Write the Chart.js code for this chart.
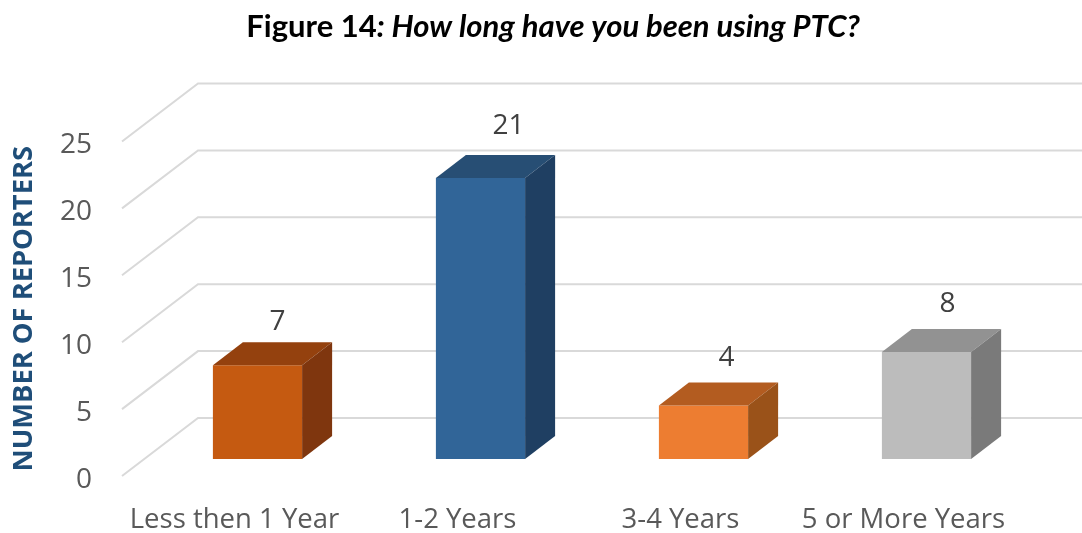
<!DOCTYPE html>
<html>
<head>
<meta charset="utf-8">
<title>How long have you been using PTC?</title>
<script src="https://cdn.jsdelivr.net/npm/chart.js@4"></script>
<style>
    html, body { margin: 0; padding: 0; background: #fff; }
    canvas { display: block; }
</style>
</head>
<body>
<canvas id="ptc-chart" width="1082" height="533"></canvas>
<script>
const CATEGORIES = ['Less then 1 Year', '1-2 Years', '3-4 Years', '5 or More Years'];
const REPORTERS = [7, 21, 4, 8];
const Y_TICKS = [0, 5, 10, 15, 20, 25];

const FRONT_COLORS = ['#C55A11', '#316598', '#ED7D31', '#BCBCBC'];
const TOP_COLORS = ['#94410E', '#274E74', '#B35C20', '#929292'];
const SIDE_COLORS = ['#7F360E', '#1F3F62', '#9A5219', '#7A7A7A'];

// how far the bars stand from the wall and from the front edge of the floor
const BAR_DEPTH = { dx: 30, dy: -23 };
const WALL_OFFSET = { dx: 52, dy: -41 };
const FLOOR_OFFSET = { dx: -24, dy: 17 };

// value labels sit up and to the right of each bar, not quite evenly
const VALUE_SHIFT_X = [20, 28, 23, 21];
const VALUE_SHIFT_Y = [43, 52, 47, 48];

const FONT = '"Open Sans", sans-serif';
const TITLE_FONT = 'Lato, sans-serif';

// gridlines run along the floor/side wall, then across the back wall
const wallPlugin = {
    id: 'wall',
    beforeDatasetsDraw(chart) {
        const { ctx, scales: { y }, chartArea } = chart;
        ctx.save();
        ctx.strokeStyle = '#D9D9D9';
        ctx.lineWidth = 2;
        Y_TICKS.forEach(v => {
            const py = y.getPixelForValue(v);
            ctx.beginPath();
            ctx.moveTo(chartArea.left + FLOOR_OFFSET.dx, py + FLOOR_OFFSET.dy);
            ctx.lineTo(chartArea.left + WALL_OFFSET.dx, py + WALL_OFFSET.dy);
            ctx.lineTo(chart.width, py + WALL_OFFSET.dy);
            ctx.stroke();
        });
        ctx.restore();
    }
};

function fillFace(ctx, color, points) {
    ctx.fillStyle = color;
    ctx.beginPath();
    points.forEach((p, i) => i ? ctx.lineTo(p[0], p[1]) : ctx.moveTo(p[0], p[1]));
    ctx.closePath();
    ctx.fill();
}

// top and side faces of each bar, plus the value above it
const boxPlugin = {
    id: 'box',
    afterDatasetsDraw(chart) {
        const ctx = chart.ctx;
        const { dx, dy } = BAR_DEPTH;
        chart.getDatasetMeta(0).data.forEach((bar, i) => {
            const left = bar.x - bar.width / 2;
            const right = bar.x + bar.width / 2;
            fillFace(ctx, TOP_COLORS[i], [[left, bar.y], [right, bar.y], [right + dx, bar.y + dy], [left + dx, bar.y + dy]]);
            fillFace(ctx, SIDE_COLORS[i], [[right, bar.y], [right + dx, bar.y + dy], [right + dx, bar.base + dy], [right, bar.base]]);

            ctx.fillStyle = '#404040';
            ctx.font = '28px ' + FONT;
            ctx.textAlign = 'center';
            ctx.textBaseline = 'middle';
            ctx.fillText(String(REPORTERS[i]), bar.x + VALUE_SHIFT_X[i], bar.y - VALUE_SHIFT_Y[i]);
        });
    }
};

// heading has an upright part and an italic part, so it is written in two runs
const headingPlugin = {
    id: 'heading',
    afterDraw(chart) {
        const ctx = chart.ctx;
        const runs = [
            { text: 'Figure 14', font: 'bold 31px ' + TITLE_FONT },
            { text: ': How long have you been using PTC?', font: 'italic bold 31px ' + TITLE_FONT }
        ];
        ctx.save();
        ctx.fillStyle = '#000';
        ctx.textAlign = 'left';
        ctx.textBaseline = 'middle';
        let total = 0;
        runs.forEach(r => { ctx.font = r.font; total += ctx.measureText(r.text).width; });
        let x = 553 - total / 2;
        runs.forEach(r => {
            ctx.font = r.font;
            ctx.fillText(r.text, x, 27);
            x += ctx.measureText(r.text).width;
        });
        ctx.restore();
    }
};

new Chart(document.getElementById('ptc-chart'), {
    type: 'bar',
    data: {
        labels: CATEGORIES,
        datasets: [{
            data: REPORTERS,
            backgroundColor: FRONT_COLORS,
            borderWidth: 0,
            barPercentage: 0.4,
            categoryPercentage: 1
        }]
    },
    options: {
        responsive: false,
        animation: false,
        layout: { padding: { top: 124.5, right: 44, left: 0, bottom: 0 } },
        plugins: { legend: { display: false }, tooltip: { enabled: false } },
        scales: {
            x: {
                grid: { display: false },
                border: { display: false },
                afterFit(scale) {
                    scale.height = 40;
                    scale.paddingLeft = 0;
                    scale.paddingRight = 0;
                },
                ticks: {
                    color: '#595959',
                    font: { family: FONT, size: 27.5 },
                    padding: 3,
                    labelOffset: -23,
                    maxRotation: 0,
                    autoSkip: false
                }
            },
            y: {
                min: -2.54,
                max: 25,
                grid: { display: false },
                border: { display: false },
                afterBuildTicks(scale) { scale.ticks = Y_TICKS.map(v => ({ value: v })); },
                afterFit(scale) {
                    scale.width = 146;
                    scale.paddingTop = 0;
                    scale.paddingBottom = 0;
                },
                title: {
                    display: true,
                    text: 'NUMBER OF REPORTERS',
                    color: '#1F4E79',
                    font: { family: FONT, size: 27.3, weight: 'bold' },
                    padding: { top: 8, bottom: 0 }
                },
                ticks: {
                    color: '#595959',
                    font: { family: FONT, size: 28 },
                    padding: 46,
                    labelOffset: 21,
                    autoSkip: false
                }
            }
        }
    },
    plugins: [wallPlugin, boxPlugin, headingPlugin]
});
</script>
</body>
</html>
